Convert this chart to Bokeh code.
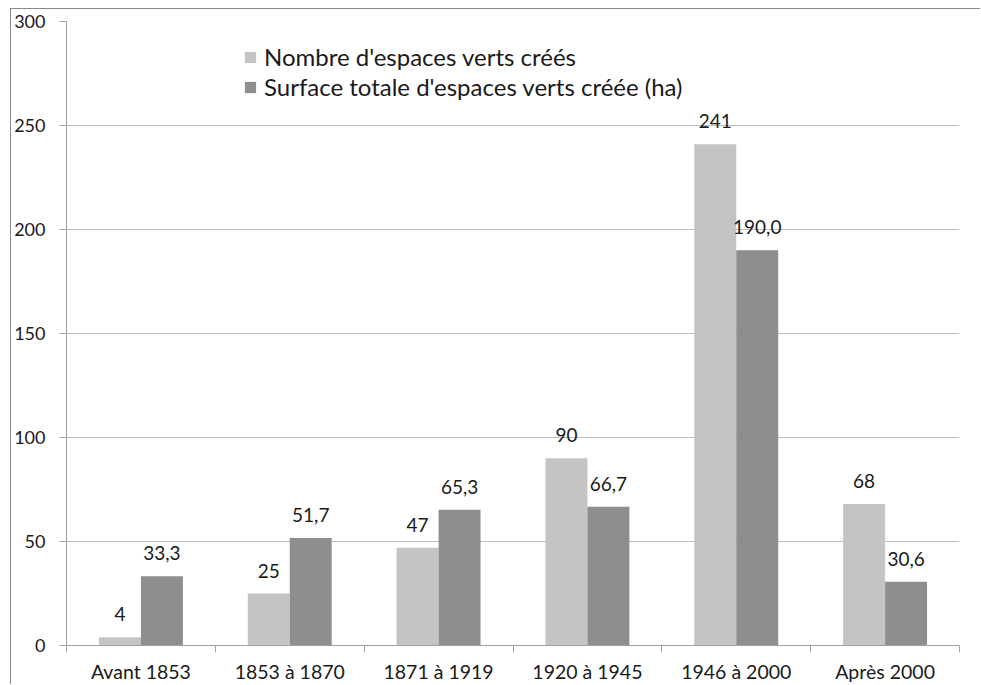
import numpy as np
from bokeh.plotting import figure
from bokeh.models import ColumnDataSource, FixedTicker, Legend, LegendItem, Range1d
from bokeh.core.properties import value
from bokeh.embed import file_html
from bokeh.resources import INLINE

categories = ["Avant 1853", "1853 à 1870", "1871 à 1919", "1920 à 1945", "1946 à 2000", "Après 2000"]
nombre = [4, 25, 47, 90, 241, 68]
surface = [33.3, 51.7, 65.3, 66.7, 190.0, 30.6]
y_ticks = [0, 50, 100, 150, 200, 250, 300]
series_names = ["Nombre d'espaces verts créés", "Surface totale d'espaces verts créée (ha)"]

FONT = "Lato"
LIGHT = "#c4c4c4"
DARK = "#8e8e8e"
BAR_W = 0.282

n = len(categories)
centers = np.arange(n) + 0.5

src1 = ColumnDataSource(dict(x=centers - BAR_W / 2, top=nombre,
                             label=[str(v) for v in nombre]))
src2 = ColumnDataSource(dict(x=centers + BAR_W / 2, top=surface,
                             label=[f"{v:.1f}".replace(".", ",") for v in surface]))

p = figure(width=970, height=676, output_backend="svg", toolbar_location=None,
           x_range=Range1d(0, n), y_range=Range1d(0, 300),
           min_border_left=55, min_border_right=22, min_border_top=12, min_border_bottom=40)
p.styles = {"border-top": "1px solid #8a8a8a", "border-left": "1px solid #8a8a8a",
            "margin-left": "10px", "margin-top": "8px"}
p.outline_line_color = None
p.background_fill_color = "white"
p.border_fill_color = "white"

r1 = p.vbar(x="x", top="top", width=BAR_W, bottom=0, source=src1,
            fill_color=LIGHT, line_color=None)
r2 = p.vbar(x="x", top="top", width=BAR_W, bottom=0, source=src2,
            fill_color=DARK, line_color=None)

for src in (src1, src2):
    p.text(x="x", y="top", text="label", source=src, text_align="center",
           text_baseline="alphabetic", y_offset=-23, text_font=value(FONT),
           text_font_size="19px", text_color="#1a1a1a")

# X axis: labels at category centres, tick marks between categories
p.xaxis.ticker = FixedTicker(ticks=list(centers), minor_ticks=list(range(n + 1)))
p.xaxis.major_label_overrides = {float(c): lab for c, lab in zip(centers, categories)}
p.xaxis.major_tick_line_color = None
p.xaxis.minor_tick_line_color = "#a0a0a0"
p.xaxis.minor_tick_in = 0
p.xaxis.minor_tick_out = 7
p.xaxis.axis_line_color = "#a0a0a0"
p.xaxis.major_label_text_font = FONT
p.xaxis.major_label_text_font_size = "19.5px"
p.xaxis.major_label_text_color = "#1a1a1a"
p.xaxis.major_label_standoff = 7
p.xgrid.grid_line_color = None

p.yaxis.ticker = FixedTicker(ticks=y_ticks, minor_ticks=[])
p.yaxis.major_tick_in = 0
p.yaxis.major_tick_out = 7
p.yaxis.major_tick_line_color = "#a0a0a0"
p.yaxis.axis_line_color = "#a0a0a0"
p.yaxis.major_label_text_font = FONT
p.yaxis.major_label_text_font_size = "18px"
p.yaxis.major_label_text_color = "#1a1a1a"
p.yaxis.major_label_standoff = 14
p.ygrid.ticker = FixedTicker(ticks=y_ticks)
p.ygrid.grid_line_color = "#bdbdbd"

legend = Legend(items=[LegendItem(label=series_names[0], renderers=[r1]),
                       LegendItem(label=series_names[1], renderers=[r2])],
                location=(177, 544), orientation="vertical")
legend.border_line_color = None
legend.background_fill_alpha = 0
legend.padding = 0
legend.margin = 0
legend.glyph_width = 14
legend.glyph_height = 14
legend.label_standoff = 7
legend.label_height = 28
legend.spacing = 1
legend.label_text_font = FONT
legend.label_text_font_size = "24px"
legend.label_text_color = "#1a1a1a"
p.add_layout(legend, "center")

open("out.html", "w").write(file_html(p, INLINE))
